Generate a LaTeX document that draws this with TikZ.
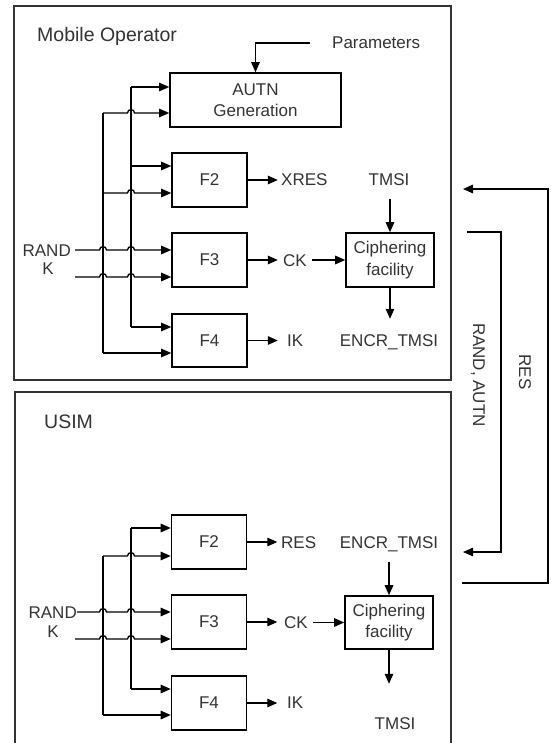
\documentclass[tikz,border=0pt]{standalone}
\usepackage{fontspec}
\setmainfont{Liberation Sans}
\usetikzlibrary{arrows.meta,calc}
\newcommand\lab{\fontsize{17}{21.5}\selectfont}
\newcommand\ttl{\fontsize{19.5}{22}\selectfont}
\begin{document}
\begin{tikzpicture}[x=1pt,y=-1pt,
  frame/.style={line width=1.8pt, draw=black!80},
  box/.style={draw, line width=1.6pt, inner sep=0pt, font=\lab, align=center, text=black!80},
  fbox/.style={box, minimum width=75pt, minimum height=54pt},
  cbox/.style={box, minimum width=88pt, minimum height=54pt},
  lbl/.style={font=\lab, inner sep=0pt, text=black!80},
  ttlbl/.style={font=\ttl, inner sep=0pt, text=black!80},
  ln/.style={line width=1.3pt},
  arr/.style={line width=1.3pt, -{Triangle[length=10pt,width=8.5pt]}},
  vlbl/.style={lbl, rotate=-90}]
\useasboundingbox (0,0) rectangle (550,743);

% ---------- frames ----------
\draw[frame] (14,6) rectangle (451,380);
\draw[frame] (15,743) -- (15,392) -- (451,392) -- (451,743);
\node[ttlbl, anchor=base west] (mo) at (37,42) {Mobile Operator};
\node[ttlbl, anchor=base west] (usim) at (44,428) {USIM};

% ---------- Mobile operator ----------
\node[box, minimum width=171pt, minimum height=54pt] (autn) at (255.5,100) {AUTN\\Generation};
\node[fbox] (f2a) at (209.5,180) {F2};
\node[fbox] (f3a) at (209.5,260) {F3};
\node[fbox, minimum height=53pt] (f4a) at (209.5,340.5) {F4};
\node[cbox] (ciphA) at (390,260) {Ciphering\\facility};

\node[lbl, anchor=base west] (params) at (332,49) {Parameters};
\node[lbl, anchor=base west] (xres) at (281,186) {XRES};
\node[lbl, anchor=base] (tmsiA) at (389,186) {TMSI};
\node[lbl, anchor=base west] (ckA) at (283,266) {CK};
\node[lbl, anchor=base] (encrA) at (389,346) {ENCR\_TMSI};
\node[lbl, anchor=base west] (ikA) at (287,346) {IK};
\node[lbl, anchor=base east] (randA) at (71,256) {RAND};
\node[lbl, anchor=base] (kA) at (48,274) {K};

% parameters
\coordinate (p0) at (310,43);
\draw[arr] (p0) -| (autn.north);

% buses
\draw[ln] (131,87) -- (131,327);
\draw[ln] (103,113) -- (103,353);

\coordinate (a1) at (131,87);
\draw[arr] (a1) -- (a1 -| autn.west);
\coordinate (a2) at (103,113);
\draw[arr] (a2) -- (127.5,113) .. controls (127.5,108.5) and (134.5,108.5) .. (134.5,113) -- (a2 -| autn.west);
\coordinate (b1) at (131,166);
\draw[arr] (b1) -- (b1 -| f2a.west);
\coordinate (b2) at (103,193);
\draw[arr] (b2) -- (127.5,193) .. controls (127.5,188.5) and (134.5,188.5) .. (134.5,193) -- (b2 -| f2a.west);
\coordinate (c1) at (75,250);
\draw[arr] (c1) -- (99.5,250) .. controls (99.5,245.5) and (106.5,245.5) .. (106.5,250)
  -- (127.5,250) .. controls (127.5,245.5) and (134.5,245.5) .. (134.5,250) -- (c1 -| f3a.west);
\coordinate (c2) at (75,277);
\draw[arr] (c2) -- (99.5,277) .. controls (99.5,272.5) and (106.5,272.5) .. (106.5,277)
  -- (127.5,277) .. controls (127.5,272.5) and (134.5,272.5) .. (134.5,277) -- (c2 -| f3a.west);
\coordinate (d1) at (131,327);
\draw[arr] (d1) -- (d1 -| f4a.west);
\coordinate (d2) at (103,353);
\draw[arr] (d2) -- (d2 -| f4a.west);

% outputs
\draw[arr] (f2a.east) -- ++(30,0);
\draw[arr] (f3a.east) -- ++(30,0);
\draw[arr] (f4a.east) -- ++(30,0);
\draw[arr] ([xshift=5pt]ckA.east |- ciphA.west) -- (ciphA.west);
\coordinate (tA) at (390,199);
\draw[arr] (tA) -- (ciphA.north);
\draw[arr] (ciphA.south) -- ++(0,31);

% ---------- USIM ----------
\node[fbox] (f2b) at (209,542) {F2};
\node[fbox] (f3b) at (209,622) {F3};
\node[fbox] (f4b) at (209,703) {F4};
\node[cbox, minimum height=53pt] (ciphB) at (389,622.5) {Ciphering\\facility};

\node[lbl, anchor=base west] (resB) at (281,548) {RES};
\node[lbl, anchor=base] (encrB) at (389,548) {ENCR\_TMSI};
\node[lbl, anchor=base west] (ckB) at (284,628) {CK};
\node[lbl, anchor=base west] (ikB) at (287,708) {IK};
\node[lbl, anchor=base] (tmsiB) at (395,729) {TMSI};
\node[lbl, anchor=base east] (randB) at (77,618) {RAND};
\node[lbl, anchor=base] (kB) at (53,637) {K};

\draw[ln] (131,528) -- (131,689);
\draw[ln] (103,556) -- (103,715);

\coordinate (e1) at (131,528);
\draw[arr] (e1) -- (e1 -| f2b.west);
\coordinate (e2) at (103,556);
\draw[arr] (e2) -- (127.5,556) .. controls (127.5,551.5) and (134.5,551.5) .. (134.5,556) -- (e2 -| f2b.west);
\coordinate (g1) at (77,612);
\draw[arr] (g1) -- (99.5,612) .. controls (99.5,607.5) and (106.5,607.5) .. (106.5,612)
  -- (127.5,612) .. controls (127.5,607.5) and (134.5,607.5) .. (134.5,612) -- (g1 -| f3b.west);
\coordinate (g2) at (75,639);
\draw[arr] (g2) -- (99.5,639) .. controls (99.5,634.5) and (106.5,634.5) .. (106.5,639)
  -- (127.5,639) .. controls (127.5,634.5) and (134.5,634.5) .. (134.5,639) -- (g2 -| f3b.west);
\coordinate (h1) at (131,689);
\draw[arr] (h1) -- (h1 -| f4b.west);
\coordinate (h2) at (103,715);
\draw[arr] (h2) -- (h2 -| f4b.west);

\draw[arr] (f2b.east) -- ++(30,0);
\draw[arr] (f3b.east) -- ++(30,0);
\draw[arr] (f4b.east) -- ++(30,0);
\draw[arr] ([xshift=5pt]ckB.east |- ciphB.west) -- (ciphB.west);
\coordinate (tB) at (389,562);
\draw[arr] (tB) -- (ciphB.north);
\draw[arr] (ciphB.south) -- ++(0,34);

% ---------- exchanges ----------
\coordinate (rs0) at (462,583);
\coordinate (rs1) at (463,189);
\draw[arr] (rs0) -- (548,583) -- (548,189) -- (rs1);
\node[vlbl] (reslbl) at (525,372) {RES};

\coordinate (ra0) at (467,232);
\coordinate (ra1) at (463,552);
\draw[arr] (ra0) -- (501,232) -- (501,552) -- (ra1);
\node[vlbl] (randlbl) at (478,375) {RAND, AUTN};
\end{tikzpicture}
\end{document}
